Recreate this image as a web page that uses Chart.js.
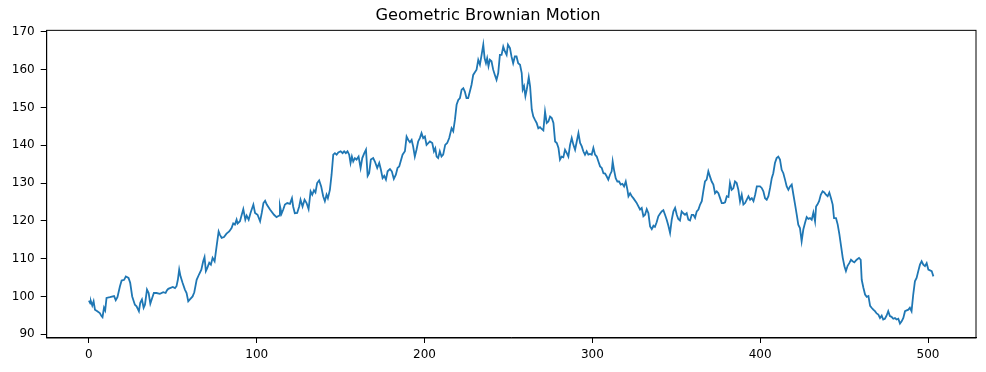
<!DOCTYPE html>
<html>
<head>
<meta charset="utf-8">
<script src="https://cdn.jsdelivr.net/npm/chart.js@4"></script>
<style>
  body { margin: 0; background: #fff; }
  #wrap { width: 986px; height: 372px; }
</style>
</head>
<body>
<div id="wrap"><canvas id="gbm"></canvas></div>
<script>
// values (step, price)
const steps = [
  0, 0.9, 1.2, 2, 2.8, 3.6, 5, 6.5, 7.5, 8.1, 9, 9.7, 10.5, 12.5, 15, 16, 17, 18.5, 19.5, 21,
  22, 23.6, 24.6, 25.8, 27.4, 28.4, 29.8, 30.6, 31.6, 32.6, 33.4, 34.6, 35.6, 36.6, 37.7, 38.7, 40.3, 42.3, 44.3, 45.7,
  46.5, 47.3, 48.3, 50, 51.3, 52.2, 53, 53.8, 54.6, 55.8, 57.2, 58.2, 59.2, 60.2, 61.8, 62.8, 64.2, 65.6, 67, 68.1,
  68.9, 69.7, 70.5, 71.7, 72.7, 73.7, 74.9, 76.1, 77.3, 78.1, 79.1, 80.5, 82, 83.6, 85, 86, 87, 88, 88.6, 90,
  92, 93.2, 94, 95.2, 96.3, 98, 99, 100.5, 102, 103, 104, 105, 106, 107.9, 110.3, 111.8, 113.4,
  113.8, 114.8, 115.8, 116.8, 118.2, 119.8, 121, 121.7, 122.7, 124.1, 125.3, 126.1, 127.3, 128.5, 129.7, 130.9, 132.1, 133.1, 134.1, 135,
  136, 137.2, 138.4, 139.6, 140.6, 141.6, 142.4, 143.6, 144.6, 145.6, 146.6, 147.6, 148.6, 150, 151.2, 152.1, 153.1, 154.1, 155.1, 155.9,
  156.7, 157.5, 158.5, 159.5, 160.7, 161.9, 162.9, 164.1, 165.1, 166.1, 167, 168, 169.4, 170.4, 171.8, 173, 174, 175, 176, 177,
  178, 179.4, 180.5, 181.7, 182.9, 183.9, 184.9, 186.9, 188.3, 189.3, 190.3, 191.3, 192.3, 193.2, 194.2, 195.2, 196.2, 197.2, 198.2, 199.2,
  200.2, 201.2, 203.2, 204.6, 205.6, 206.4, 207.2, 208.1, 209.1, 210.1, 211.1, 212.3, 213.5, 214.7, 216.1, 217.1, 218.1, 219.1, 220.1, 221.1,
  222.1, 223.1, 224, 225, 226, 227, 228, 229, 230, 231, 232, 233, 234, 235, 235.8, 236.6, 237.3, 238.1, 238.9, 239.9,
  240.9, 241.9, 242.9, 243.9, 244.9, 245.9, 246.9, 247.9, 248.9, 249.7, 250.9, 251.8, 252.8, 253.8, 254.8, 255.8,
  256.9, 257.9, 258.5, 259.3, 260.1, 260.9, 262.1, 262.9, 263.9, 264.8, 265.8, 266.8, 267.8, 268.8, 269.8, 270.8, 271.8, 272.8, 273.8, 274.8,
  275.8, 276.8, 277.8, 278.8, 279.8, 280.7, 281.7, 282.7, 283.7, 284.7, 285.7, 286.7, 287.7, 288.7, 289.7, 290.7, 291.7, 292.7, 293.7, 294.6,
  295.6, 296.6, 297.6, 298.6, 299.6, 300.6, 301.6, 302.6, 303.6, 304.6, 305.6, 306.6, 307.6, 308.5, 309.5, 310.5, 311.5, 312.1, 312.9, 313.9,
  314.9, 315.9, 316.9, 317.9, 318.9, 319.9, 320.9, 321.5, 322.5, 323.5, 324.4, 326.3,
  328.4, 329.4, 330.4, 331.4, 332.4, 333.4, 334.4, 335.4, 336.4, 337.3, 338.3, 339.3, 340.3, 341.3, 342.3, 343.3, 344.3, 345.3, 346.3, 347.3,
  348.3, 349.3, 350.3, 351.2, 352.2, 353.2, 354.2, 355.2, 356.2, 357.2, 358.2, 359.2, 360.2, 361.2, 362.2, 363.2, 364.2, 365.2, 366.1, 367.1,
  368.1, 369.1, 370.1, 371.1, 372.1, 373.1, 374.1, 375.1, 376.1, 377.1, 378.1, 379.1, 380.1, 381.1, 382, 383, 384, 385, 386, 387,
  388, 389, 390, 391, 392, 393, 394, 395, 396, 397, 398, 399.9, 400.9, 401.9, 402.9, 403.9, 404.9, 405.9, 406.9, 407.8,
  408.8, 409.8, 410.8, 411.8, 412.8, 413.8, 414.8, 415.8, 416.8, 417.8, 418.8, 419.8, 420.8, 421.8, 422.7, 423.7, 424.7, 425.7, 426.7, 427.7,
  428.7, 429.7, 430.7, 431.7, 432.7, 433.3, 434.1, 435.1, 436.1, 437.2, 438.2, 439.2, 440.2, 441.2, 442.2, 443.2, 444, 445.2, 446.2, 447.2,
  448.2, 449.2, 450.2, 451.1, 452.1, 453.1, 454.1, 455.1, 456.1, 457.5, 458.9, 459.9, 460.5, 461.5, 462.5, 463.5, 464.5, 465.5, 466.4, 467.4,
  468.4, 469.4, 470.4, 471.4, 472.4, 473.3, 474.3, 475.3, 476.3, 477.3, 478.3, 479.3, 480.3, 481.3, 482.3, 483.3, 484.3, 485.3, 486.3, 487.3,
  488.3, 489.2, 490.2, 491.2, 492.2, 493.2, 494.2, 495.2, 496.2, 497.2, 498.2, 499.2, 500.2, 501.2, 502.2, 503.2
];
const prices = [
  98.9, 98.1, 98.7, 97.6, 98.7, 96.5, 96.1, 95.6, 94.8, 94.5, 97, 96.3, 99.6, 99.8, 100.1, 99, 99.8, 102.7, 104.2, 104.4,
  105.3, 104.9, 103.6, 100, 97.8, 97.4, 96.1, 98.3, 99.2, 97, 97.8, 101.8, 100.9, 98.1, 99.6, 100.9, 100.9, 100.7, 101.1, 100.9,
  101.6, 102, 102.2, 102.5, 102.2, 102.7, 104.4, 107.1, 105.3, 103.6, 101.8, 100.9, 98.7, 99.2, 100, 101.1, 104.4, 105.8, 107.1, 109.3,
  110.4, 106.7, 107.5, 108.9, 108.4, 110.2, 109.3, 113.3, 117.2, 116.3, 115.5, 115.7, 116.6, 117.2, 118.1, 119.3, 119, 120.3, 119.3, 119.9,
  123.1, 120.3, 121.4, 120.3, 122.1, 124.3, 122.1, 121.6, 119.9, 122.1, 124.7, 125.3, 124.3, 123, 121.6, 121, 121.4,
  124, 121.9, 123, 124.3, 124.7, 124.5, 126, 123.8, 122, 122.1, 123.8, 125.6, 123.8, 125.6, 124.7, 123.1, 127.8, 126.9, 128.1, 127.5,
  130, 130.7, 129.1, 126.5, 125.2, 126.9, 126, 128.2, 132.2, 137.5, 137.9, 137.5, 138.1, 138.4, 137.9, 138.4, 137.9, 138.4, 137.5, 135.3,
  137, 135.7, 136.6, 136.2, 137, 134, 136.6, 137.9, 138.8, 131.9, 132.6, 136.2, 136.6, 135.7, 134, 135.3, 133.5, 131.3, 131.9, 130.9,
  133.1, 133.7, 133.1, 131.1, 132.2, 134, 134.4, 137.5, 138.4, 142.3, 141.4, 140.8, 141.4, 139.7, 137, 138.8, 141, 141.9, 143.2, 141.9,
  142.3, 140.1, 141, 140.6, 138.4, 139.2, 137, 136.6, 138.4, 137, 137.5, 140.1, 140.6, 141.9, 144.5, 143.7, 146.7, 150.7, 152, 152.5,
  154.7, 155.1, 154.2, 152.5, 152.5, 154.2, 156, 158.6, 159.3, 160, 162.6, 161.3, 163.9, 166.6, 163, 161.7, 163, 160.9, 162.6, 162.2,
  160, 158.6, 157.3, 159.1, 163.9, 163.9, 166.1, 164.8, 163.9, 166.6, 165.7, 163.5, 161.7, 163.5, 163.5, 161.7,
  161.3, 159.1, 154.7, 155.6, 153, 154.7, 158, 155.6, 149.4, 147.6, 146.7, 145.9, 144.5, 144.8, 144.3, 143.9, 148.9, 145.9, 146.3, 147.6,
  147.2, 145.9, 141, 140.6, 139.3, 136.2, 137, 136.8, 138.8, 138, 137, 140.1, 141.9, 140.1, 138.8, 141, 143.2, 140.6, 139.7, 138.4,
  137.5, 138.4, 137.5, 137.7, 137.5, 139.3, 137.5, 137, 135.7, 134.4, 134, 132.6, 132.5, 131.8, 130.9, 132.2, 133.1, 135.7, 133.5, 131.3,
  130.4, 130.4, 129.6, 129.8, 129.1, 130.4, 128.2, 126.5, 127.3, 126.5, 126, 124.8,
  123, 123.4, 121.2, 121.6, 123.1, 122, 118.5, 117.8, 118.7, 118.4, 119.6, 121.2, 121.9, 122.5, 122.8, 121.6, 120.3, 118.7, 116.8, 120.3,
  122.5, 123.4, 121.6, 120.5, 120.1, 122.5, 122, 121.6, 122, 120.3, 120.1, 121.6, 121.6, 120.8, 122.5, 123, 124.3, 125.2, 127.8, 130.4,
  130.9, 133.1, 131.7, 130.4, 129.6, 127.3, 127.8, 127.3, 126, 124.7, 124.7, 124.9, 126.5, 126.3, 130, 128.2, 128.6, 130.4, 130, 128.2,
  125.1, 126.9, 124.3, 124.7, 125.6, 126.5, 125.6, 126, 125.2, 126.9, 129.1, 129.1, 128.7, 127.8, 126, 125.6, 126.5, 128.7, 131.3, 132.6,
  135.3, 136.6, 137, 136.2, 133.5, 132.6, 130.9, 129.1, 128.2, 129.1, 129.6, 126.9, 124.3, 121.6, 119, 118.1, 114.6, 117.7, 119.4, 121,
  120.5, 120.7, 120.3, 122.2, 119.9, 123.8, 124.3, 125.2, 126.9, 127.8, 127.5, 126.9, 126.5, 127.5, 126, 124.3, 120.7, 120.7, 119, 116.4,
  113.3, 110.2, 108, 106.7, 108.1, 108.8, 109.7, 109.3, 109, 109.7, 110.2, 109.7, 104.4, 102.3, 100.5, 99.9, 100.1, 97.5, 97, 96.5,
  96.1, 95.5, 95.2, 94.3, 94.9, 93.9, 94.1, 94.9, 96.1, 94.8, 94.6, 94.1, 94.3, 93.9, 94.1, 92.8, 93.4, 94.3, 96.1, 96.3,
  96.5, 97, 96.1, 100.5, 104, 104.9, 106.7, 108.4, 109.3, 108.4, 108, 108.8, 107.1, 106.9, 106.7, 105.3
];
const xTicks = [0, 100, 200, 300, 400, 500];
const yTicks = [90, 100, 110, 120, 130, 140, 150, 160, 170];

const points = steps.map((s, k) => ({ x: s, y: prices[k] }));

// black frame round the plot area, like matplotlib spines
const frame = {
  id: 'frame',
  afterDraw(chart) {
    const a = chart.chartArea, c = chart.ctx;
    c.save();
    c.strokeStyle = '#000';
    c.lineWidth = 1;
    c.strokeRect(a.left, a.top, a.right - a.left, a.bottom - a.top);
    c.restore();
  }
};

const font = { family: 'DejaVu Sans', size: 12 };

new Chart(document.getElementById('gbm'), {
  type: 'line',
  data: {
    datasets: [{
      data: points,
      borderColor: '#1f77b4',
      borderWidth: 1.8,
      pointRadius: 0,
      tension: 0,
      fill: false
    }]
  },
  options: {
    responsive: true,
    maintainAspectRatio: false,
    animation: false,
    layout: { padding: { left: 0, right: 10, top: 0, bottom: 0 } },
    plugins: {
      legend: { display: false },
      tooltip: { enabled: false },
      title: {
        display: true,
        text: 'Geometric Brownian Motion',
        color: '#000',
        font: { family: 'DejaVu Sans', size: 16.2, weight: 'normal' },
        padding: { top: 6, bottom: 4.9 }
      }
    },
    scales: {
      x: {
        type: 'linear',
        min: -25.15,
        max: 528.6,
        afterBuildTicks: s => { s.ticks = xTicks.map(v => ({ value: v })); },
        afterFit: s => { s.height = 34; },
        grid: { drawOnChartArea: false, drawTicks: true, tickLength: 5, color: '#000' },
        border: { display: true, color: '#000' },
        ticks: { color: '#000', font, padding: 5, maxRotation: 0 }
      },
      y: {
        min: 89.0,
        max: 170.4,
        afterBuildTicks: s => { s.ticks = yTicks.map(v => ({ value: v })); },
        afterFit: s => { s.width = 46.7; },
        grid: { drawOnChartArea: false, drawTicks: true, tickLength: 6, color: '#000' },
        border: { display: true, color: '#000' },
        ticks: { color: '#000', font, padding: 6 }
      }
    }
  },
  plugins: [frame]
});
</script>
</body>
</html>
